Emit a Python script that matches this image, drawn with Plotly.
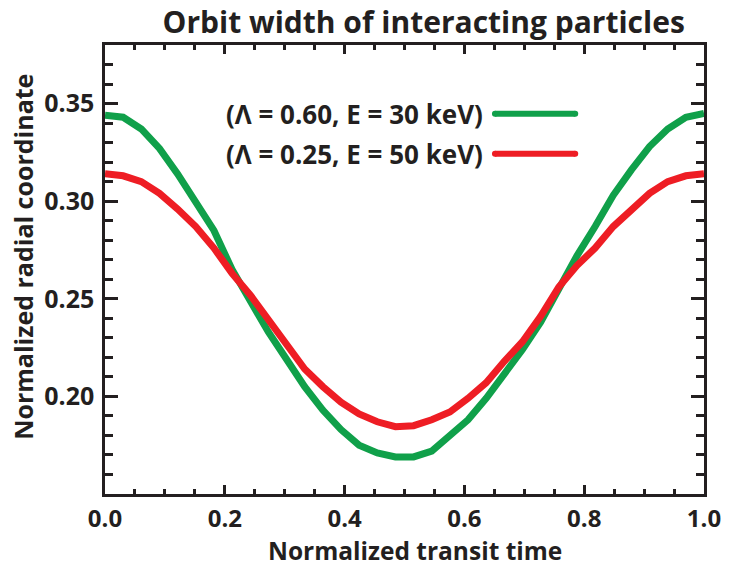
import plotly.graph_objects as go

# Normalized transit time samples (34 points, uniform spacing)
transit_time = [k / 33 for k in range(34)]

# Radial coordinate for (Λ = 0.60, E = 30 keV)
radius_l060 = [
    0.344, 0.343, 0.337, 0.327, 0.314, 0.300, 0.285, 0.265, 0.249, 0.233,
    0.219, 0.205, 0.193, 0.183, 0.175, 0.171, 0.169, 0.169, 0.172, 0.180,
    0.188, 0.199, 0.211, 0.224, 0.238, 0.255, 0.272, 0.287, 0.303, 0.316,
    0.328, 0.337, 0.343, 0.345,
]

# Radial coordinate for (Λ = 0.25, E = 50 keV)
radius_l025 = [
    0.314, 0.313, 0.310, 0.304, 0.296, 0.287, 0.276, 0.263, 0.252, 0.239,
    0.226, 0.214, 0.205, 0.197, 0.191, 0.187, 0.1845, 0.185, 0.188, 0.192,
    0.199, 0.207, 0.218, 0.228, 0.241, 0.256, 0.267, 0.276, 0.287, 0.296,
    0.304, 0.310, 0.313, 0.314,
]

series_labels = ["(Λ = 0.60, E = 30 keV)", "(Λ = 0.25, E = 50 keV)"]
series_colors = ["#10a04a", "#ee1d24"]

x_ticks = [0.0, 0.2, 0.4, 0.6, 0.8, 1.0]
x_ticklabels = ["0.0", "0.2", "0.4", "0.6", "0.8", "1.0"]
y_ticks = [0.20, 0.25, 0.30, 0.35]
y_ticklabels = ["0.20", "0.25", "0.30", "0.35"]

FONT = "Open Sans"
INK = "#231f20"

fig = go.Figure()
for ys, color in zip([radius_l060, radius_l025], series_colors):
    fig.add_trace(go.Scatter(
        x=transit_time, y=ys, mode="lines",
        line=dict(color=color, width=7), showlegend=False, hoverinfo="skip",
    ))

# Legend: text on the left, line sample on the right
legend_rows_y = [0.3448, 0.3243]
for label, color, ly in zip(series_labels, series_colors, legend_rows_y):
    fig.add_trace(go.Scatter(
        x=[0.651, 0.785], y=[ly, ly], mode="lines+markers",
        line=dict(color=color, width=6),
        marker=dict(color=color, size=6),
        showlegend=False, hoverinfo="skip",
    ))
    fig.add_annotation(
        x=0.634, y=ly, xref="x", yref="y", text=label, showarrow=False,
        xanchor="right", yanchor="middle",
        font=dict(family=FONT, size=26, color=INK, weight="bold"),
    )

# Axis titles
fig.add_annotation(
    x=0.518, y=0.0, xref="paper", yref="paper", yshift=-56,
    text="Normalized transit time", showarrow=False,
    xanchor="center", yanchor="middle",
    font=dict(family=FONT, size=24.5, color=INK, weight="bold"),
)
fig.add_annotation(
    x=-0.137, y=0.528, xref="paper", yref="paper",
    text="Normalized radial coordinate", showarrow=False, textangle=-90,
    xanchor="center", yanchor="middle",
    font=dict(family=FONT, size=25, color=INK, weight="bold"),
)

axis_common = dict(
    showline=True, linecolor=INK, linewidth=2.5, mirror="allticks",
    ticks="inside", tickcolor=INK, tickwidth=2.5,
    showgrid=False, zeroline=False,
)

fig.update_xaxes(
    range=[0, 1], tickvals=x_ticks, ticktext=x_ticklabels, ticklen=9,
    minor=dict(dtick=0.05, ticks="inside", ticklen=5, tickcolor=INK, tickwidth=2.5, showgrid=False),
    ticklabelstandoff=1,
    tickfont=dict(family=FONT, size=24, color=INK, weight="bold"),
    **axis_common,
)
fig.update_yaxes(
    range=[0.15, 0.38], tickvals=y_ticks, ticktext=y_ticklabels, ticklen=13,
    minor=dict(dtick=0.01, ticks="inside", ticklen=8, tickcolor=INK, tickwidth=2.5, showgrid=False),
    ticklabelstandoff=3,
    tickfont=dict(family=FONT, size=25, color=INK, weight="bold"),
    **axis_common,
)

fig.update_layout(
    width=733, height=567,
    margin=dict(l=105, r=20, t=45, b=73),
    paper_bgcolor="white", plot_bgcolor="white",
    title=dict(text="Orbit width of interacting particles", x=0.578, xanchor="center",
               y=0.961, yanchor="middle",
               font=dict(family=FONT, size=30, color=INK, weight="bold")),
)

fig.write_html("out.html")
